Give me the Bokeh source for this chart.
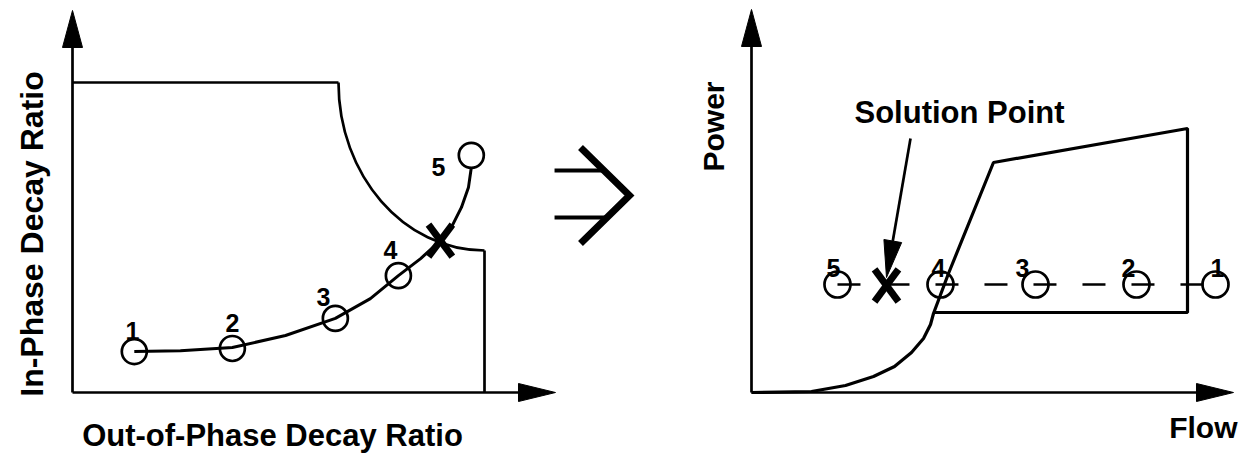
import math
from bokeh.plotting import figure
from bokeh.layouts import row
from bokeh.models import Range1d
from bokeh.core.properties import value
from bokeh.embed import file_html
from bokeh.resources import INLINE

FONT = "Liberation Sans"
INK = "black"

# ---------------- Left panel: decay-ratio plane ----------------
# stability boundary (flat top, quarter arc, vertical right side)
bnd_top_x = [0.0, 0.6456]
bnd_top_y = [1.0, 1.0]
arc_start = (0.6456, 1.0)
arc_ctrl0 = (0.6456, 0.7007)
arc_ctrl1 = (0.8043, 0.458)
arc_end = (1.0, 0.458)
bnd_side_x = [1.0, 1.0]
bnd_side_y = [0.458, 0.0]

# trajectory of trial points
traj_x = [0.150, 0.262, 0.388, 0.517, 0.638, 0.723, 0.791, 0.845, 0.893,
          0.922, 0.944, 0.961, 0.968]
traj_y = [0.132, 0.135, 0.145, 0.184, 0.239, 0.303, 0.377, 0.432, 0.490,
          0.539, 0.597, 0.661, 0.726]

left_pt_x = [0.150, 0.388, 0.638, 0.791, 0.968]
left_pt_y = [0.132, 0.142, 0.239, 0.377, 0.765]
left_lab = ["1", "2", "3", "4", "5"]
left_lab_x = [0.1456, 0.3883, 0.6092, 0.7718, 0.8883]
left_lab_y = [0.200, 0.2226, 0.3065, 0.4581, 0.729]
left_cross = (0.893, 0.490)

# implication symbol between panels (left-panel units)
imp_line_x = [[1.170, 1.290], [1.170, 1.297]]
imp_line_y = [[0.7161, 0.7161], [0.5645, 0.5645]]
imp_chev_x = [1.233, 1.3519, 1.233]
imp_chev_y = [0.7903, 0.6355, 0.4806]

# ---------------- Right panel: power-flow map ----------------
reg_x = [0.0, 0.1376, 0.2156, 0.2798, 0.3280, 0.3670, 0.3945, 0.4106, 0.4174,
         0.4518, 0.5550, 1.0, 1.0, 0.4174]
reg_y = [0.0, 0.0038, 0.0265, 0.0606, 0.0985, 0.1515, 0.2045, 0.2576, 0.2992,
         0.4508, 0.8712, 1.0, 0.3030, 0.3030]

right_pt_x = [1.0642, 0.8830, 0.6514, 0.4335, 0.1972]
right_pt_y = [0.4091, 0.4091, 0.4091, 0.4091, 0.4091]
right_lab = ["1", "2", "3", "4", "5"]
right_lab_x = [1.0688, 0.8647, 0.6216, 0.4289, 0.1881]
right_lab_y = [0.4697, 0.4697, 0.4697, 0.4697, 0.4697]
dash_x = [0.1972, 1.0367]
dash_y = [0.4091, 0.4091]
right_cross = (0.3096, 0.4053)
sol_arrow = (0.3647, 0.9621, 0.3096, 0.4356)

# ---------------- layout (pixels) ----------------
H = 454
LW, RW = 660, 582
L_O, L_S = (72, 392), (412.0, 310.0)   # origin inside left figure, px per unit
R_O, R_S = (91, 392), (436.0, 264.0)


def make_fig(w, o, s):
    x0 = -o[0] / s[0]
    x1 = (w - o[0]) / s[0]
    y0 = -(H - o[1]) / s[1]
    y1 = o[1] / s[1]
    p = figure(width=w, height=H, x_range=Range1d(x0, x1), y_range=Range1d(y0, y1),
               output_backend="svg", toolbar_location=None,
               x_axis_location=None, y_axis_location=None, min_border=0)
    p.grid.visible = False
    p.outline_line_color = None
    p.background_fill_color = "white"
    p.border_fill_color = "white"
    return p


def head(p, x0, y0, x1, y1, s, length, half):
    dx = (x1 - x0) * s[0]
    dy = (y1 - y0) * s[1]
    L = math.hypot(dx, dy)
    ux, uy = dx / L, dy / L
    tx, ty = x1 * s[0], y1 * s[1]
    bx, by = tx - ux * length, ty - uy * length
    nx, ny = -uy, ux
    xs = [tx, bx + nx * half, bx - nx * half]
    ys = [ty, by + ny * half, by - ny * half]
    p.patch([v / s[0] for v in xs], [v / s[1] for v in ys], color=INK, line_width=1)
    return bx / s[0], by / s[1]


def arrow(p, x0, y0, x1, y1, s, length=37, half=10, lw=2.7):
    bx, by = head(p, x0, y0, x1, y1, s, length, half)
    p.line([x0, bx], [y0, by], line_color=INK, line_width=lw)


def cross(p, c):
    for a in (0.932, math.pi - 0.932):
        p.scatter([c[0]], [c[1]], marker="dash", size=40, angle=a,
                  line_color=INK, line_width=7)


def labels(p, xs, ys, txt, size="25px", align="center", angle=0.0):
    p.text(xs, ys, text=txt, angle=angle, text_font=value(FONT), text_font_style="bold",
           text_font_size=size, text_align=align, text_baseline="alphabetic",
           text_color=INK)


# ---- left figure ----
pl = make_fig(LW, L_O, L_S)
arrow(pl, 0, 0, 0, 1.2323, L_S)
arrow(pl, 0, 0, 1.1723, 0, L_S, half=9)
pl.line(bnd_top_x, bnd_top_y, line_color=INK, line_width=2.7)
pl.bezier(x0=[arc_start[0]], y0=[arc_start[1]], x1=[arc_end[0]], y1=[arc_end[1]],
          cx0=[arc_ctrl0[0]], cy0=[arc_ctrl0[1]], cx1=[arc_ctrl1[0]], cy1=[arc_ctrl1[1]],
          line_color=INK, line_width=2.7)
pl.line(bnd_side_x, bnd_side_y, line_color=INK, line_width=2.7)
pl.line(traj_x, traj_y, line_color=INK, line_width=3)
pl.scatter(left_pt_x, left_pt_y, marker="circle", size=25, fill_color=None,
           line_color=INK, line_width=2.7)
labels(pl, left_lab_x, left_lab_y, left_lab)
cross(pl, left_cross)
pl.multi_line(imp_line_x, imp_line_y, line_color=INK, line_width=4)
pl.line(imp_chev_x, imp_chev_y, line_color=INK, line_width=7, line_join="miter")
labels(pl, [-0.0971], [0.5113], ["In-Phase Decay Ratio"], size="32px",
       angle=math.pi / 2)
labels(pl, [0.4854], [-0.1387], ["Out-of-Phase Decay Ratio"], size="31px")

# ---- right figure ----
pr = make_fig(RW, R_O, R_S)
arrow(pr, 0, 0, 0, 1.4508, R_S)
arrow(pr, 0, 0, 1.1055, 0, R_S, half=9)
pr.line(reg_x, reg_y, line_color=INK, line_width=3.2)
pr.line(dash_x, dash_y, line_color=INK, line_width=2.6, line_dash="23 26")
pr.scatter(right_pt_x, right_pt_y, marker="circle", size=26, fill_color=None,
           line_color=INK, line_width=2.7)
labels(pr, right_lab_x, right_lab_y, right_lab)
cross(pr, right_cross)
arrow(pr, *sol_arrow, R_S, length=37, half=9, lw=2.7)
labels(pr, [0.2362], [1.0606], ["Solution Point"], size="31px", align="left")
labels(pr, [1.1147], [-0.1326], ["Flow"], size="30px", align="right")
labels(pr, [-0.0872], [1.0076], ["Power"], size="30px", angle=math.pi / 2)

layout = row(pl, pr)
open("out.html", "w").write(file_html(layout, INLINE))
